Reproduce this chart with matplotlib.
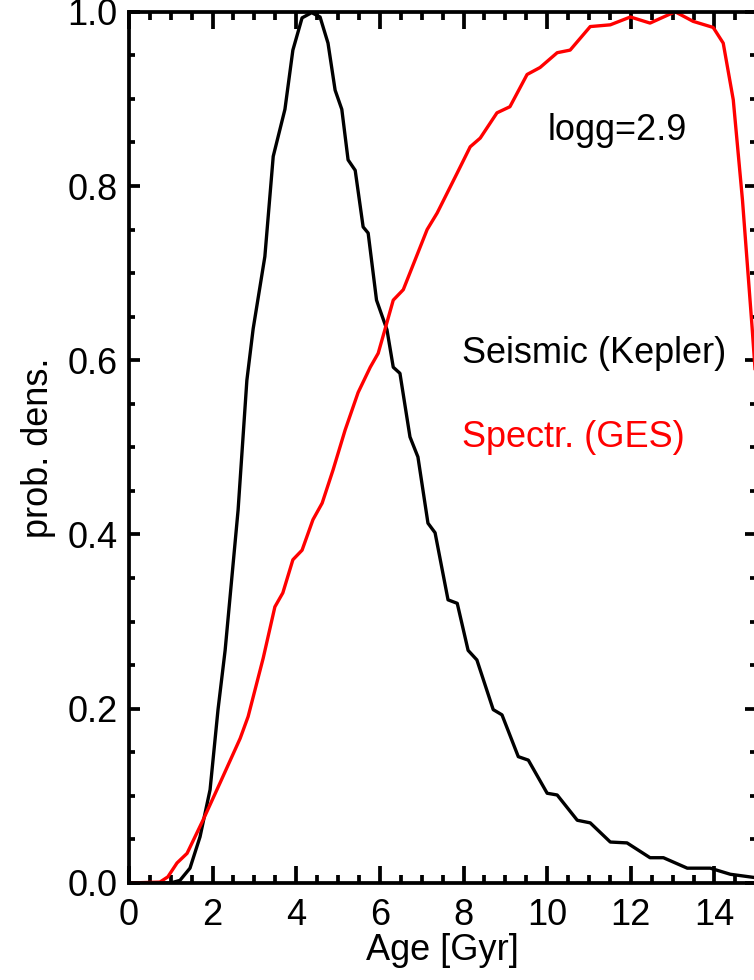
import matplotlib
matplotlib.use("Agg")
import matplotlib.pyplot as plt
from matplotlib.ticker import MultipleLocator

plt.rcParams['font.family'] = ['Liberation Sans', 'DejaVu Sans']

# seismic (Kepler) age pdf
seis_age = [0.0, 1.0, 1.22, 1.46, 1.70, 1.94, 2.13, 2.30, 2.61, 2.82, 2.97, 3.25, 3.45, 3.73,
            3.92, 4.14, 4.37, 4.57, 4.76, 4.93, 5.09, 5.24, 5.41, 5.60, 5.72, 5.92, 6.17,
            6.32, 6.48, 6.72, 6.91, 7.15, 7.32, 7.63, 7.85, 8.11, 8.32, 8.71, 8.92, 9.31,
            9.55, 10.0, 10.24, 10.72, 11.03, 11.51, 11.91, 12.46, 12.78, 13.35, 13.9,
            14.38, 15.0]
seis_pdf = [0.0, 0.0, 0.003, 0.017, 0.053, 0.107, 0.199, 0.267, 0.428, 0.577, 0.636, 0.719,
            0.834, 0.888, 0.956, 0.993, 0.999, 0.994, 0.964, 0.910, 0.888, 0.830, 0.818,
            0.753, 0.746, 0.669, 0.635, 0.592, 0.585, 0.512, 0.489, 0.413, 0.402, 0.325,
            0.321, 0.267, 0.256, 0.199, 0.193, 0.145, 0.141, 0.103, 0.101, 0.072, 0.069,
            0.047, 0.046, 0.029, 0.029, 0.017, 0.017, 0.010, 0.006]

# spectroscopic (GES) age pdf
spec_age = [0.0, 0.74, 0.93, 1.15, 1.39, 1.77, 2.18, 2.66, 2.85, 3.21, 3.49, 3.68, 3.92,
            4.14, 4.40, 4.62, 4.88, 5.17, 5.48, 5.77, 5.96, 6.12, 6.32, 6.56, 7.13, 7.37,
            7.85, 8.16, 8.40, 8.80, 9.11, 9.52, 9.83, 10.24, 10.55, 11.03, 11.51, 11.99,
            12.46, 13.06, 13.49, 13.97, 14.21, 14.45, 14.67, 14.90, 15.0]
spec_pdf = [0.0, 0.001, 0.007, 0.023, 0.034, 0.072, 0.115, 0.166, 0.191, 0.258, 0.317,
            0.333, 0.371, 0.382, 0.417, 0.436, 0.474, 0.520, 0.563, 0.592, 0.608, 0.635,
            0.669, 0.681, 0.750, 0.769, 0.815, 0.845, 0.855, 0.884, 0.891, 0.928, 0.936,
            0.953, 0.956, 0.983, 0.985, 0.994, 0.987, 1.0, 0.989, 0.982, 0.964, 0.899,
            0.784, 0.638, 0.57]

fig = plt.figure(figsize=(7.54, 9.8), dpi=100)
ax = fig.add_axes([0.171, 0.099, 0.832, 0.889])

ax.plot(seis_age, seis_pdf, color='black', lw=2.4, solid_joinstyle='round')
ax.plot(spec_age, spec_pdf, color='red', lw=2.4, solid_joinstyle='round')

ax.set_xlim(0, 15)
ax.set_ylim(0, 1.0)
ax.xaxis.set_major_locator(MultipleLocator(2))
ax.xaxis.set_minor_locator(MultipleLocator(0.5))
ax.yaxis.set_major_locator(MultipleLocator(0.2))
ax.yaxis.set_minor_locator(MultipleLocator(0.05))
ax.yaxis.set_major_formatter(matplotlib.ticker.FormatStrFormatter('%.1f'))
for s in ax.spines.values():
    s.set_linewidth(2.7)
ax.tick_params(which='both', direction='in', top=True, right=True, labelsize=26, width=2.7)
ax.tick_params(axis='x', which='major', length=12, pad=11)
ax.tick_params(axis='x', which='minor', length=6)
ax.tick_params(axis='y', which='major', length=8, pad=8)
ax.tick_params(axis='y', which='minor', length=4.5)

ax.set_xlabel('Age [Gyr]', fontsize=26, labelpad=0)
ax.set_ylabel('prob. dens.', fontsize=26, labelpad=8)

ax.text(10.02, 0.864, 'logg=2.9', fontsize=26, va='center', ha='left')
ax.text(7.97, 0.608, 'Seismic (Kepler)', fontsize=26, va='center', ha='left')
ax.text(7.97, 0.511, 'Spectr. (GES)', fontsize=26, va='center', ha='left', color='red')

fig.savefig('out.png', dpi=100)
